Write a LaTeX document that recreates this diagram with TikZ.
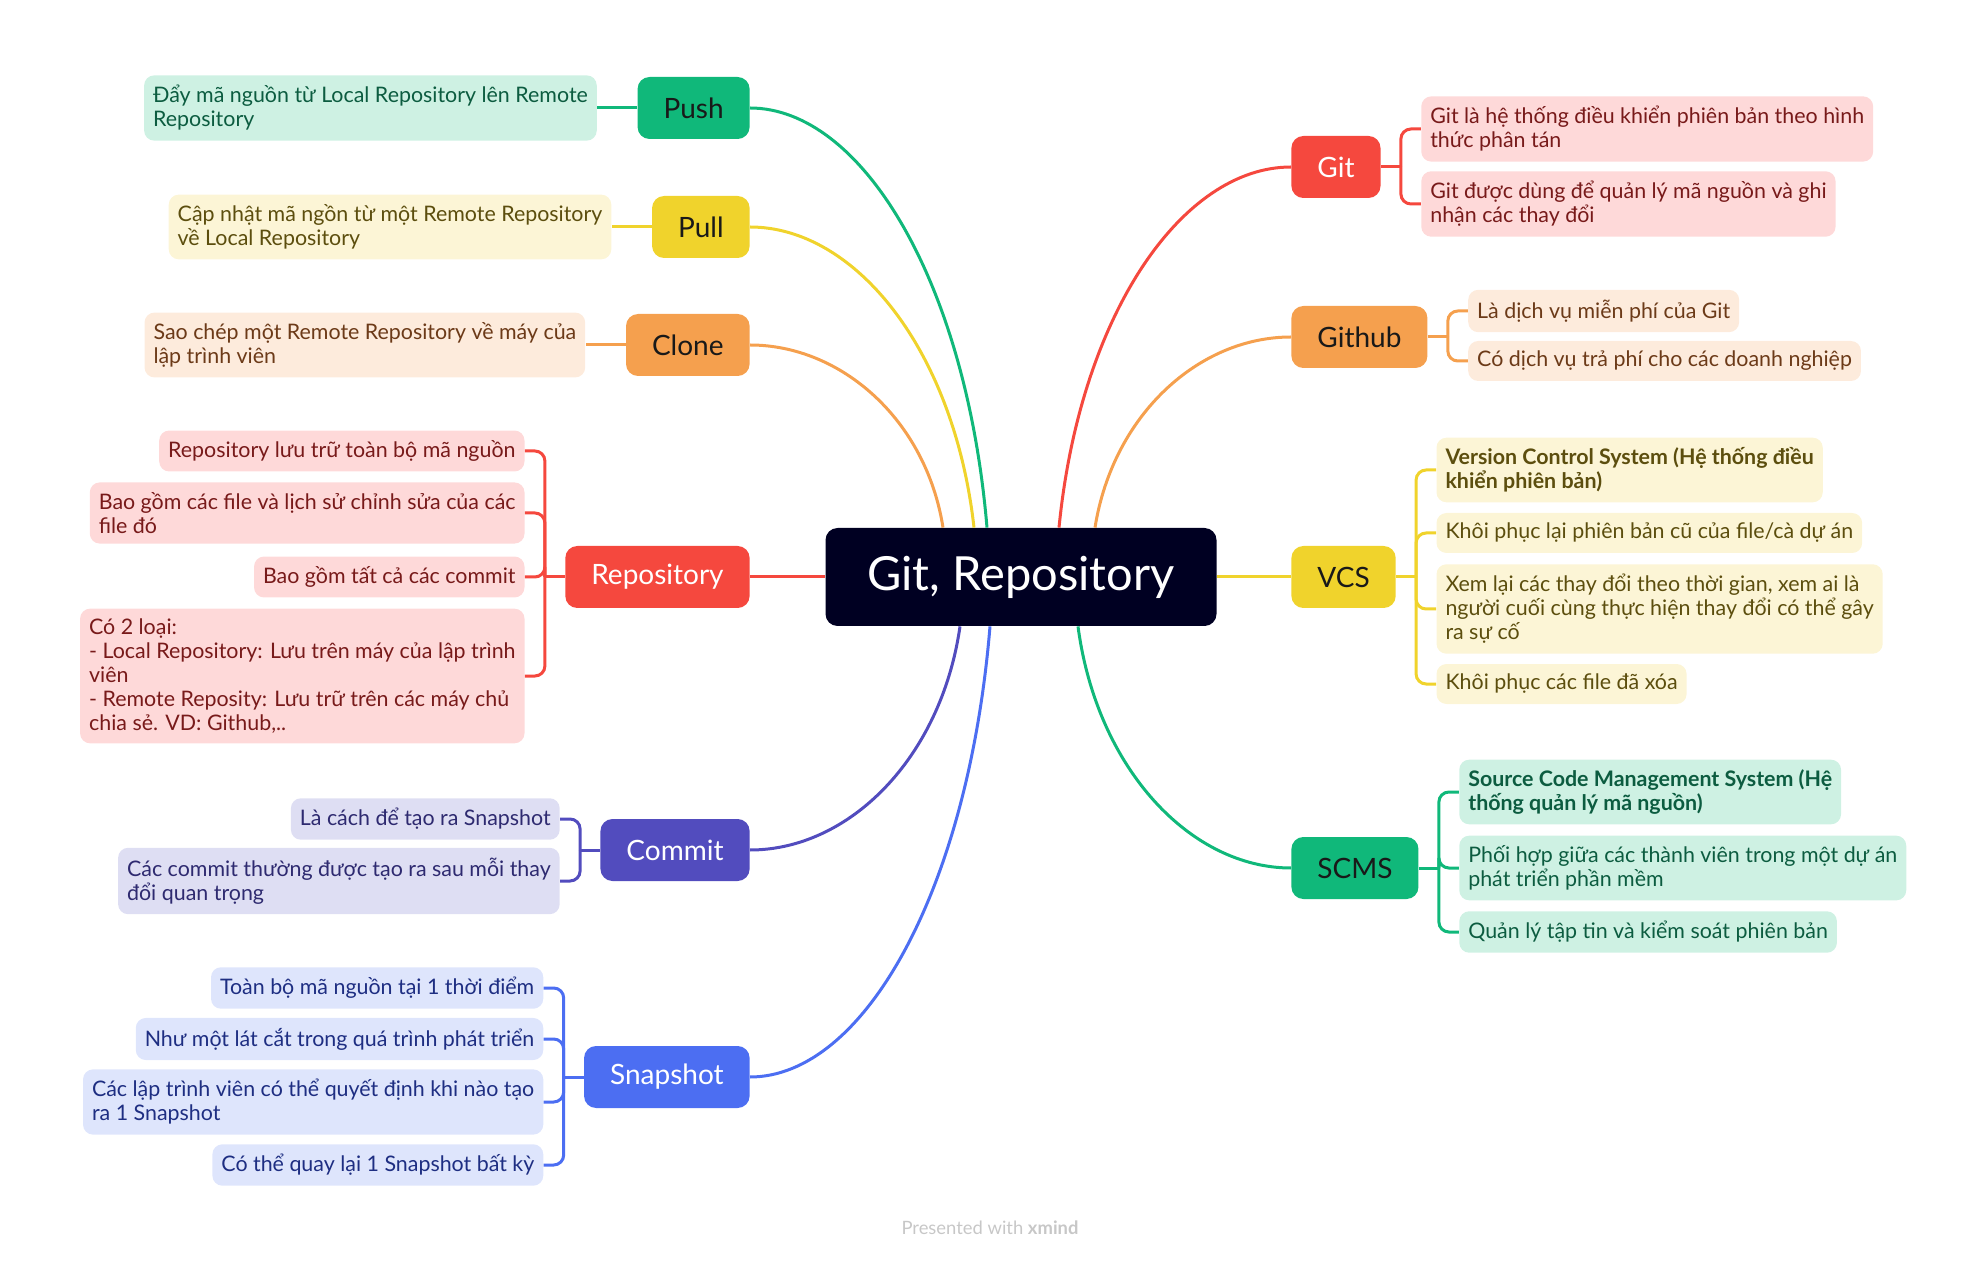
\documentclass[tikz,border=0pt]{standalone}
\usepackage{fontspec}
\setmainfont{Lato}
\usepackage{tikz}
\usetikzlibrary{positioning}
\definecolor{navy}{RGB}{0,0,34}
\definecolor{grn}{RGB}{16,184,122}
\definecolor{grnl}{RGB}{206,241,227}
\definecolor{grnd}{RGB}{12,92,64}
\definecolor{yel}{RGB}{240,211,44}
\definecolor{yell}{RGB}{252,245,214}
\definecolor{yeld}{RGB}{92,78,14}
\definecolor{org}{RGB}{245,160,78}
\definecolor{orgl}{RGB}{253,235,220}
\definecolor{orgd}{RGB}{108,58,24}
\definecolor{rd}{RGB}{245,72,62}
\definecolor{rdl}{RGB}{254,217,217}
\definecolor{rdd}{RGB}{120,26,26}
\definecolor{ind}{RGB}{82,76,190}
\definecolor{indl}{RGB}{222,222,243}
\definecolor{indd}{RGB}{46,42,112}
\definecolor{blu}{RGB}{76,110,242}
\definecolor{blul}{RGB}{222,229,252}
\definecolor{blud}{RGB}{30,46,130}
\tikzstyle{root}=[fill=navy, text=white, rounded corners=6pt, minimum width=195.5pt, minimum height=49pt, font=\fontsize{23.5pt}{28pt}\selectfont]
\tikzstyle{topic}=[rounded corners=6pt, minimum height=31pt, inner xsep=13pt, text=black!90, font=\fontsize{14pt}{17pt}\selectfont]
\tikzstyle{sub}=[rounded corners=5pt, align=left, inner xsep=4.5pt, inner ysep=5pt, minimum height=20pt, font=\fontsize{10.7pt}{12pt}\selectfont]
\tikzstyle{link}=[line width=1.5pt]

\begin{document}
\begin{tikzpicture}[x=0.5pt, y=-0.5pt]
    \useasboundingbox (0,0) rectangle (1981,1261);

    \node [root] (root) at (1021,577) {Git, Repository};

    % left topics
    \node [topic, fill=grn, anchor=east] (push) at (750,108) {Push};
    \node [topic, fill=yel, anchor=east] (pull) at (750,227) {Pull};
    \node [topic, fill=org, anchor=east] (clone) at (750,345) {Clone};
    \node [topic, fill=rd, text=white, anchor=east] (repo) at (750,577) {Repository};
    \node [topic, fill=ind, text=white, anchor=east] (commit) at (750,850) {Commit};
    \node [topic, fill=blu, text=white, anchor=east] (snap) at (750,1077) {Snapshot};

    % right topics
    \node [topic, fill=rd, text=white, anchor=west] (git) at (1291,167) {Git};
    \node [topic, fill=org, anchor=west] (github) at (1291,337) {Github};
    \node [topic, fill=yel, anchor=west] (vcs) at (1291,577) {VCS};
    \node [topic, fill=grn, anchor=west] (scms) at (1291,868) {SCMS};

    % left subtopics
    \node [sub, fill=grnl, text=grnd, left=20pt of push] (push1) {Đẩy mã nguồn từ Local Repository lên Remote\\Repository};
    \node [sub, fill=yell, text=yeld, left=20pt of pull] (pull1) {Cập nhật mã ngồn từ một Remote Repository\\về Local Repository};
    \node [sub, fill=orgl, text=orgd, left=20pt of clone] (clone1) {Sao chép một Remote Repository về máy của\\lập trình viên};

    \node [sub, fill=rdl, text=rdd, left=20pt of repo, yshift=63pt] (repo1) {Repository lưu trữ toàn bộ mã nguồn};
    \node [sub, fill=rdl, text=rdd, left=20pt of repo, yshift=32pt] (repo2) {Bao gồm các file và lịch sử chỉnh sửa của các\\file đó};
    \node [sub, fill=rdl, text=rdd, left=20pt of repo] (repo3) {Bao gồm tất cả các commit};
    \node [sub, fill=rdl, text=rdd, left=20pt of repo, yshift=-49.5pt] (repo4) {Có 2 loại:\\- Local Repository: Lưu trên máy của lập trình\\viên\\- Remote Reposity: Lưu trữ trên các máy chủ\\chia sẻ. VD: Github,..};

    \node [sub, fill=indl, text=indd, left=20pt of commit, yshift=15.5pt] (commit1) {Là cách để tạo ra Snapshot};
    \node [sub, fill=indl, text=indd, left=20pt of commit, yshift=-15.5pt] (commit2) {Các commit thường được tạo ra sau mỗi thay\\đổi quan trọng};

    \node [sub, fill=blul, text=blud, left=20pt of snap, yshift=44.5pt] (snap1) {Toàn bộ mã nguồn tại 1 thời điểm};
    \node [sub, fill=blul, text=blud, left=20pt of snap, yshift=19pt] (snap2) {Như một lát cắt trong quá trình phát triển};
    \node [sub, fill=blul, text=blud, left=20pt of snap, yshift=-12.5pt] (snap3) {Các lập trình viên có thể quyết định khi nào tạo\\ra 1 Snapshot};
    \node [sub, fill=blul, text=blud, left=20pt of snap, yshift=-44pt] (snap4) {Có thể quay lại 1 Snapshot bất kỳ};

    % right subtopics
    \node [sub, fill=rdl, text=rdd, right=20pt of git, yshift=19pt] (git1) {Git là hệ thống điều khiển phiên bản theo hình\\thức phân tán};
    \node [sub, fill=rdl, text=rdd, right=20pt of git, yshift=-18.5pt] (git2) {Git được dùng để quản lý mã nguồn và ghi\\nhận các thay đổi};

    \node [sub, fill=orgl, text=orgd, right=20pt of github, yshift=13pt] (github1) {Là dịch vụ miễn phí của Git};
    \node [sub, fill=orgl, text=orgd, right=20pt of github, yshift=-12pt] (github2) {Có dịch vụ trả phí cho các doanh nghiệp};

    \node [sub, fill=yell, text=yeld, right=20pt of vcs, yshift=53.5pt, font=\fontsize{10.7pt}{12pt}\selectfont\bfseries] (vcs1) {Version Control System (Hệ thống điều\\khiển phiên bản)};
    \node [sub, fill=yell, text=yeld, right=20pt of vcs, yshift=22pt] (vcs2) {Khôi phục lại phiên bản cũ của file/cà dự án};
    \node [sub, fill=yell, text=yeld, right=20pt of vcs, yshift=-16pt] (vcs3) {Xem lại các thay đổi theo thời gian, xem ai là\\người cuối cùng thực hiện thay đổi có thể gây\\ra sự cố};
    \node [sub, fill=yell, text=yeld, right=20pt of vcs, yshift=-53.5pt] (vcs4) {Khôi phục các file đã xóa};

    \node [sub, fill=grnl, text=grnd, right=20pt of scms, yshift=38pt, font=\fontsize{10.7pt}{12pt}\selectfont\bfseries] (scms1) {Source Code Management System (Hệ\\thống quản lý mã nguồn)};
    \node [sub, fill=grnl, text=grnd, right=20pt of scms] (scms2) {Phối hợp giữa các thành viên trong một dự án\\phát triển phần mềm};
    \node [sub, fill=grnl, text=grnd, right=20pt of scms, yshift=-32pt] (scms3) {Quản lý tập tin và kiểm soát phiên bản};

    \node [text=black!22, font=\fontsize{9.2pt}{11pt}\selectfont] (mark) at (990,1228) {Presented with \textbf{xmind}};

    % branches from the centre
    \coordinate (sPush) at ([xshift=-17pt]root.north);
    \coordinate (sPull) at ([xshift=-23.5pt]root.north);
    \coordinate (sClone) at ([xshift=-39pt]root.north);
    \coordinate (sGit) at ([xshift=19pt]root.north);
    \coordinate (sGithub) at ([xshift=37pt]root.north);
    \coordinate (sCommit) at ([xshift=-30.5pt]root.south);
    \coordinate (sSnap) at ([xshift=-15.5pt]root.south);
    \coordinate (sScms) at ([xshift=28.5pt]root.south);

    \draw [link, grn] (sPush) .. controls +(-21,-248) and +(111,0) .. (push.east);
    \draw [link, yel] (sPull) .. controls +(-20,-178) and +(105,0) .. (pull.east);
    \draw [link, org] (sClone) .. controls +(-17,-108) and +(91,0) .. (clone.east);
    \draw [link, rd] (root.west) -- (repo.east);
    \draw [link, ind] (sCommit) .. controls +(-19,132) and +(99,0) .. (commit.east);
    \draw [link, blu] (sSnap) .. controls +(-22,266) and +(113,0) .. (snap.east);
    \draw [link, rd] (sGit) .. controls +(21,-213) and +(-109,0) .. (git.west);
    \draw [link, org] (sGithub) .. controls +(18,-113) and +(-92,0) .. (github.west);
    \draw [link, yel] (root.east) -- (vcs.west);
    \draw [link, grn] (sScms) .. controls +(19,143) and +(-100,0) .. (scms.west);

    % single children
    \draw [link, grn] (push.west) -- (push1.east);
    \draw [link, yel] (pull.west) -- (pull1.east);
    \draw [link, org] (clone.west) -- (clone1.east);

    % brackets
    \coordinate [left=10pt of repo] (repoJ);
    \coordinate [left=10pt of commit] (commitJ);
    \coordinate [left=10pt of snap] (snapJ);
    \coordinate [right=10pt of git] (gitJ);
    \coordinate [right=10pt of github] (githubJ);
    \coordinate [right=10pt of vcs] (vcsJ);
    \coordinate [right=10pt of scms] (scmsJ);

    \draw [link, rd] (repo.west) -- (repoJ);
    \foreach \n in {repo1,repo2,repo3,repo4}
        \draw [link, rd, rounded corners=5pt] (repoJ) |- (\n.east);
    \draw [link, ind] (commit.west) -- (commitJ);
    \foreach \n in {commit1,commit2}
        \draw [link, ind, rounded corners=5pt] (commitJ) |- (\n.east);
    \draw [link, blu] (snap.west) -- (snapJ);
    \foreach \n in {snap1,snap2,snap3,snap4}
        \draw [link, blu, rounded corners=5pt] (snapJ) |- (\n.east);
    \draw [link, rd] (git.east) -- (gitJ);
    \foreach \n in {git1,git2}
        \draw [link, rd, rounded corners=5pt] (gitJ) |- (\n.west);
    \draw [link, org] (github.east) -- (githubJ);
    \foreach \n in {github1,github2}
        \draw [link, org, rounded corners=5pt] (githubJ) |- (\n.west);
    \draw [link, yel] (vcs.east) -- (vcsJ);
    \foreach \n in {vcs1,vcs2,vcs3,vcs4}
        \draw [link, yel, rounded corners=5pt] (vcsJ) |- (\n.west);
    \draw [link, grn] (scms.east) -- (scmsJ);
    \foreach \n in {scms1,scms2,scms3}
        \draw [link, grn, rounded corners=5pt] (scmsJ) |- (\n.west);
\end{tikzpicture}
\end{document}
